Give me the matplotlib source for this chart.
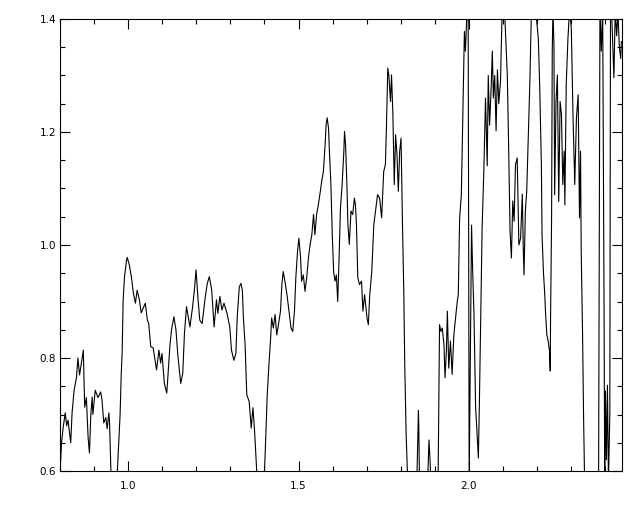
import numpy as np
import matplotlib
matplotlib.use('Agg')
import matplotlib.pyplot as plt
from matplotlib.ticker import MultipleLocator

# wavelength-like x values and the signal
x = [0.800, 0.804, 0.809, 0.815, 0.819, 0.823, 0.831, 0.835, 0.841, 0.848,
     0.852, 0.857, 0.862, 0.868, 0.872, 0.877, 0.882, 0.886, 0.890, 0.894,
     0.896, 0.903, 0.911, 0.919, 0.923, 0.928, 0.934, 0.938, 0.943, 0.945,
     0.950, 0.959, 0.968, 0.972, 0.976, 0.979, 0.982, 0.985, 0.989, 0.995,
     0.997, 1.003, 1.009, 1.015, 1.021, 1.026, 1.032, 1.038, 1.050, 1.056,
     1.060, 1.066, 1.073, 1.083, 1.090, 1.095, 1.099, 1.106, 1.113, 1.117,
     1.122, 1.127, 1.134, 1.140, 1.146, 1.154, 1.160, 1.165, 1.171, 1.181,
     1.189, 1.195, 1.199, 1.205, 1.210, 1.217, 1.225, 1.232, 1.238, 1.245,
     1.252, 1.259, 1.263, 1.269, 1.275, 1.281, 1.290, 1.298, 1.303, 1.310,
     1.316, 1.320, 1.326, 1.331, 1.335, 1.338, 1.343, 1.348, 1.355, 1.361,
     1.366, 1.371, 1.374, 1.378, 1.389, 1.400, 1.404, 1.408, 1.413, 1.418,
     1.421, 1.426, 1.431, 1.436, 1.441, 1.447, 1.451, 1.455, 1.460, 1.466,
     1.472, 1.478, 1.483, 1.488, 1.492, 1.497, 1.501, 1.506, 1.509, 1.514,
     1.519, 1.524, 1.529, 1.534, 1.539, 1.544, 1.548, 1.553, 1.558, 1.564,
     1.568, 1.573, 1.578, 1.581, 1.584, 1.588, 1.591, 1.595, 1.599, 1.603,
     1.607, 1.611, 1.615, 1.619, 1.623, 1.628, 1.633, 1.635, 1.638, 1.642,
     1.645, 1.649, 1.654, 1.659, 1.664, 1.667, 1.670, 1.674, 1.679, 1.685,
     1.689, 1.694, 1.698, 1.701, 1.705, 1.709, 1.715, 1.721, 1.726, 1.732,
     1.738, 1.744, 1.750, 1.755, 1.758, 1.762, 1.765, 1.770, 1.773, 1.777,
     1.781, 1.785, 1.789, 1.793, 1.797, 1.801, 1.805, 1.809, 1.812, 1.816,
     1.820, 1.835, 1.848, 1.852, 1.853, 1.855, 1.867, 1.880, 1.883, 1.886,
     1.888, 1.899, 1.910, 1.914, 1.918, 1.922, 1.927, 1.930, 1.934, 1.937,
     1.941, 1.946, 1.951, 1.956, 1.961, 1.966, 1.969, 1.973, 1.978, 1.982,
     1.987, 1.990, 1.995, 1.998, 2.001, 2.006, 2.008, 2.011, 2.015, 2.020,
     2.023, 2.028, 2.031, 2.035, 2.039, 2.044, 2.049, 2.054, 2.057, 2.061,
     2.065, 2.069, 2.072, 2.076, 2.080, 2.084, 2.088, 2.093, 2.098, 2.100,
     2.106, 2.113, 2.117, 2.121, 2.125, 2.129, 2.133, 2.137, 2.142, 2.147,
     2.152, 2.157, 2.160, 2.162, 2.166, 2.170, 2.174, 2.179, 2.184, 2.193,
     2.204, 2.208, 2.213, 2.215, 2.219, 2.223, 2.225, 2.229, 2.233, 2.237,
     2.239, 2.240, 2.243, 2.245, 2.247, 2.250, 2.252, 2.256, 2.260, 2.264,
     2.268, 2.272, 2.276, 2.280, 2.282, 2.286, 2.291, 2.296, 2.301, 2.306,
     2.311, 2.316, 2.321, 2.325, 2.328, 2.330, 2.334, 2.337, 2.340, 2.360,
     2.381, 2.385, 2.389, 2.393, 2.397, 2.399, 2.401, 2.404, 2.407, 2.410,
     2.414, 2.416, 2.420, 2.423, 2.426, 2.430, 2.434, 2.438, 2.442, 2.446,
     2.448]

y = [0.600, 0.650, 0.678, 0.703, 0.680, 0.690, 0.650, 0.703, 0.743, 0.766,
     0.800, 0.770, 0.790, 0.814, 0.713, 0.730, 0.660, 0.632, 0.700, 0.731,
     0.700, 0.743, 0.730, 0.740, 0.725, 0.685, 0.695, 0.675, 0.703, 0.685,
     0.580, 0.540, 0.600, 0.650, 0.700, 0.766, 0.810, 0.903, 0.944, 0.973,
     0.978, 0.965, 0.944, 0.915, 0.897, 0.920, 0.905, 0.880, 0.897, 0.867,
     0.861, 0.820, 0.818, 0.779, 0.814, 0.791, 0.808, 0.755, 0.738, 0.773,
     0.820, 0.850, 0.873, 0.850, 0.802, 0.755, 0.773, 0.844, 0.891, 0.855,
     0.891, 0.926, 0.956, 0.903, 0.867, 0.861, 0.903, 0.932, 0.944, 0.920,
     0.855, 0.903, 0.879, 0.909, 0.885, 0.897, 0.879, 0.855, 0.814, 0.796,
     0.808, 0.873, 0.926, 0.932, 0.920, 0.871, 0.824, 0.735, 0.723, 0.676,
     0.712, 0.670, 0.635, 0.590, 0.550, 0.600, 0.664, 0.735, 0.788, 0.835,
     0.871, 0.853, 0.877, 0.841, 0.859, 0.883, 0.930, 0.953, 0.936, 0.912,
     0.883, 0.853, 0.847, 0.883, 0.942, 0.989, 1.012, 0.977, 0.936, 0.947,
     0.918, 0.942, 0.977, 1.001, 1.018, 1.054, 1.018, 1.054, 1.071, 1.095,
     1.113, 1.130, 1.178, 1.213, 1.225, 1.207, 1.160, 1.107, 1.018, 0.953,
     0.936, 0.947, 0.900, 0.977, 1.065, 1.107, 1.166, 1.201, 1.178, 1.107,
     1.036, 1.001, 1.060, 1.054, 1.083, 1.071, 1.036, 0.942, 0.930, 0.936,
     0.883, 0.912, 0.889, 0.871, 0.859, 0.912, 0.953, 1.036, 1.060, 1.089,
     1.083, 1.048, 1.130, 1.142, 1.207, 1.313, 1.301, 1.254, 1.301, 1.231,
     1.107, 1.195, 1.160, 1.095, 1.166, 1.189, 1.042, 0.918, 0.782, 0.664,
     0.590, 0.500, 0.600, 0.707, 0.680, 0.590, 0.500, 0.600, 0.655, 0.620,
     0.590, 0.500, 0.600, 0.859, 0.847, 0.853, 0.824, 0.765, 0.812, 0.883,
     0.782, 0.830, 0.771, 0.841, 0.871, 0.900, 0.912, 1.048, 1.089, 1.213,
     1.378, 1.343, 1.420, 1.420, 0.580, 0.900, 1.035, 0.960, 0.880, 0.711,
     0.680, 0.623, 0.720, 0.870, 1.030, 1.130, 1.260, 1.140, 1.300, 1.212,
     1.270, 1.343, 1.260, 1.300, 1.202, 1.310, 1.250, 1.290, 1.420, 1.430,
     1.400, 1.300, 1.170, 1.025, 0.977, 1.078, 1.042, 1.142, 1.154, 1.000,
     1.012, 1.090, 0.989, 0.947, 1.060, 1.095, 1.178, 1.284, 1.420, 1.440,
     1.365, 1.284, 1.142, 1.018, 0.953, 0.912, 0.883, 0.841, 0.830, 0.812,
     0.777, 0.871, 1.048, 1.343, 1.420, 1.350, 1.089, 1.254, 1.301, 1.077,
     1.254, 1.231, 1.107, 1.166, 1.071, 1.284, 1.365, 1.420, 1.382, 1.225,
     1.107, 1.225, 1.266, 1.048, 1.166, 0.989, 0.841, 0.694, 0.580, 0.500,
     0.580, 1.420, 1.343, 1.420, 0.900, 0.580, 0.742, 0.620, 0.752, 0.580,
     0.700, 1.420, 1.400, 1.349, 1.296, 1.420, 1.370, 1.410, 1.350, 1.330,
     1.360]

xticks = [1.0, 1.5, 2.0]
yticks = [0.6, 0.8, 1.0, 1.2, 1.4]

fig = plt.figure(figsize=(6.4, 5.12), dpi=100)
ax = fig.add_axes([0.094, 0.080, 0.878, 0.883])
ax.plot(x, y, color='k', lw=0.8)

ax.set_xlim(0.8, 2.45)
ax.set_ylim(0.6, 1.4)
ax.set_xticks(xticks)
ax.set_yticks(yticks)
ax.xaxis.set_minor_locator(MultipleLocator(0.1))
ax.yaxis.set_minor_locator(MultipleLocator(0.05))
ax.set_xticklabels([f'{v:.1f}' for v in xticks])
ax.set_yticklabels([f'{v:.1f}' for v in yticks])
ax.tick_params(which='both', direction='in', top=True, right=True, width=0.8, labelsize=7.5)
ax.tick_params(which='major', length=7)
ax.tick_params(which='minor', length=3.5)
ax.tick_params(axis='x', pad=7)
ax.tick_params(axis='y', pad=3)
for s in ax.spines.values():
    s.set_linewidth(0.8)

fig.savefig('out.png', dpi=100)
